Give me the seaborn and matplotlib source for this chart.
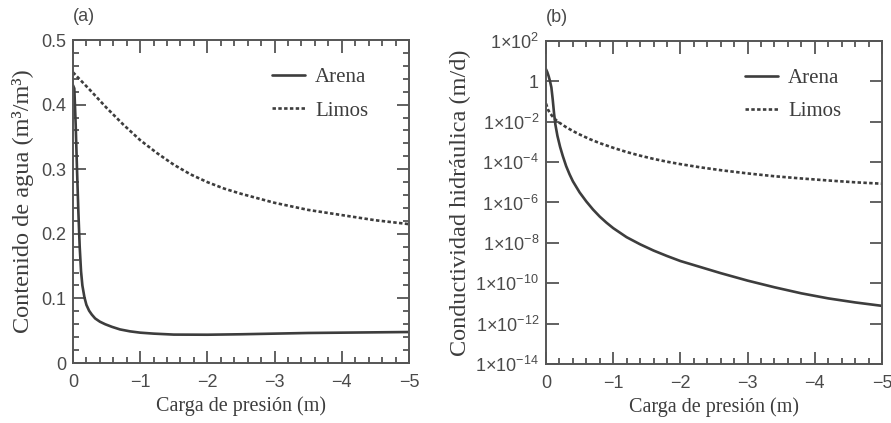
import numpy as np
import pandas as pd
import seaborn as sns
import matplotlib
matplotlib.use("Agg")
import matplotlib.pyplot as plt
from matplotlib.ticker import MultipleLocator, FixedLocator, FuncFormatter, NullLocator

# ---- water content (m3/m3) vs pressure head (m) ----
h_theta_arena = [0, -0.02, -0.04, -0.06, -0.08, -0.10, -0.12, -0.14, -0.17, -0.20,
                 -0.24, -0.28, -0.33, -0.40, -0.48, -0.58, -0.70, -0.85, -1.0,
                 -1.2, -1.5, -2.0, -2.5, -3.0, -3.5, -4.0, -4.5, -5.0]
theta_arena = [0.43, 0.425, 0.37, 0.30, 0.235, 0.18, 0.142, 0.12, 0.102, 0.09,
               0.081, 0.075, 0.069, 0.064, 0.06, 0.056, 0.052, 0.049, 0.047,
               0.0455, 0.044, 0.0438, 0.0445, 0.0455, 0.0465, 0.047, 0.0475, 0.048]

h_theta_limos = [0, -0.25, -0.5, -0.75, -1.0, -1.25, -1.5, -1.75, -2.0, -2.25,
                 -2.5, -3.0, -3.5, -4.0, -4.5, -5.0]
theta_limos = [0.45, 0.423, 0.395, 0.369, 0.345, 0.325, 0.307, 0.292, 0.28, 0.27,
               0.262, 0.248, 0.237, 0.229, 0.221, 0.215]

# ---- hydraulic conductivity (m/d), stored as log10 values ----
h_k_arena = [0, -0.02, -0.04, -0.06, -0.08, -0.10, -0.12, -0.14, -0.17, -0.21,
             -0.25, -0.30, -0.35, -0.40, -0.50, -0.60, -0.70, -0.80, -0.90, -1.0,
             -1.2, -1.4, -1.6, -1.8, -2.0, -2.3, -2.6, -3.0, -3.4, -3.8, -4.2,
             -4.6, -5.0]
log10_k_arena = [0.6, 0.45, 0.25, 0.0, -0.3, -0.9, -1.6, -2.15, -2.7, -3.25,
                 -3.7, -4.2, -4.6, -4.95, -5.5, -5.95, -6.35, -6.7, -7.0, -7.27,
                 -7.72, -8.07, -8.38, -8.65, -8.9, -9.2, -9.5, -9.87, -10.2, -10.5,
                 -10.75, -10.95, -11.12]

h_k_limos = [0, -0.03, -0.06, -0.1, -0.15, -0.2, -0.3, -0.4, -0.5, -0.65, -0.8,
             -1.0, -1.2, -1.4, -1.6, -1.8, -2.0, -2.3, -2.6, -3.0, -3.4, -3.8,
             -4.2, -4.6, -5.0]
log10_k_limos = [-1.1, -1.4, -1.58, -1.75, -1.92, -2.05, -2.27, -2.46, -2.63,
                 -2.86, -3.06, -3.29, -3.5, -3.68, -3.84, -3.98, -4.1, -4.26,
                 -4.4, -4.56, -4.7, -4.81, -4.91, -5.0, -5.07]

soils = ["Arena", "Limos"]
x_ticks = [0, -1, -2, -3, -4, -5]
theta_ticks = [0, 0.1, 0.2, 0.3, 0.4, 0.5]
k_tick_exps = [2, 0, -2, -4, -6, -8, -10, -12, -14]

theta_df = pd.concat([
    pd.DataFrame({"h": h_theta_arena, "v": theta_arena, "suelo": "Arena"}),
    pd.DataFrame({"h": h_theta_limos, "v": theta_limos, "suelo": "Limos"}),
])
k_df = pd.concat([
    pd.DataFrame({"h": h_k_arena, "v": 10.0 ** np.array(log10_k_arena), "suelo": "Arena"}),
    pd.DataFrame({"h": h_k_limos, "v": 10.0 ** np.array(log10_k_limos), "suelo": "Limos"}),
])

sns.set_theme(style="ticks")
plt.rcParams["font.family"] = ["Liberation Sans", "DejaVu Sans"]
plt.rcParams["mathtext.fontset"] = "custom"
plt.rcParams["mathtext.rm"] = "Liberation Sans"
plt.rcParams["mathtext.it"] = "Liberation Sans:italic"

INK = "#3d3d3d"
SPINE = "#555555"
TICKC = "#4a4a4a"
SERIF = ["Liberation Serif", "DejaVu Serif"]

fig = plt.figure(figsize=(8.91, 4.23), dpi=100)
ax1 = fig.add_axes([0.0819, 0.1418, 0.3771, 0.7636])
ax2 = fig.add_axes([0.6128, 0.1395, 0.3771, 0.7636])

palette = {s: INK for s in soils}
dashes = {"Arena": "", "Limos": (1.3, 0.9)}

sns.lineplot(data=theta_df, x="h", y="v", hue="suelo", style="suelo",
             palette=palette, dashes=dashes, linewidth=1.9, ax=ax1,
             estimator=None, sort=False)
ax2.set_yscale("log")
sns.lineplot(data=k_df, x="h", y="v", hue="suelo", style="suelo",
             palette=palette, dashes=dashes, linewidth=1.9, ax=ax2,
             estimator=None, sort=False)


def fmt_x(v, pos):
    return "0" if abs(v) < 1e-9 else f"\u2212{abs(v):.0f}"


def fmt_k(v, pos):
    e = int(round(np.log10(v)))
    if e == 0:
        return "1"
    if e > 0:
        return r"$1\mathregular{\times}10^{%d}$" % e
    return r"$1\mathregular{\times}10^{\mathregular{-}%d}$" % (-e)


for ax in (ax1, ax2):
    ax.set_xlim(0, -5)
    ax.xaxis.set_major_locator(FixedLocator(x_ticks))
    ax.xaxis.set_major_formatter(FuncFormatter(fmt_x))
    ax.xaxis.set_minor_locator(MultipleLocator(0.2))
    ax.tick_params(which="both", direction="in", top=True, right=True,
                   color=SPINE, width=1.3)
    ax.tick_params(which="major", length=9, labelsize=13, labelcolor=TICKC)
    ax.tick_params(which="minor", length=4.5)
    ax.tick_params(axis="x", which="major", pad=8)
    ax.tick_params(axis="y", which="major", pad=5)
    for sp in ax.spines.values():
        sp.set_color(SPINE)
        sp.set_linewidth(1.4)
    ax.set_xlabel("Carga de presión (m)", family=SERIF, fontsize=14.5,
                  color=INK, labelpad=4)
    handles, labels = ax.get_legend_handles_labels()
    ax.legend(handles, labels, frameon=False, loc="upper right",
              bbox_to_anchor=(0.935, 0.972), handlelength=1.6,
              handletextpad=0.5, labelspacing=0.65,
              prop={"family": SERIF, "size": 15}, labelcolor=INK)

ax1.set_ylim(0, 0.5)
ax1.yaxis.set_major_locator(FixedLocator(theta_ticks))
ax1.yaxis.set_major_formatter(FuncFormatter(lambda v, p: "0" if v == 0 else f"{v:.1f}"))
ax1.yaxis.set_minor_locator(MultipleLocator(0.02))
ax1.set_ylabel("Contenido de agua (m\u00b3/m\u00b3)", family=SERIF, fontsize=17.5,
               color=INK, labelpad=5)

ax2.set_ylim(1e-14, 1e2)
ax2.yaxis.set_major_locator(FixedLocator([10.0 ** e for e in k_tick_exps]))
ax2.yaxis.set_major_formatter(FuncFormatter(fmt_k))
ax2.yaxis.set_minor_locator(NullLocator())
ax2.set_ylabel("Conductividad hidráulica (m/d)", family=SERIF, fontsize=17.5,
               color=INK, labelpad=3)

ax1.text(0.0, 1.045, "(a)", transform=ax1.transAxes, fontsize=13, color=TICKC,
         ha="left", va="bottom")
ax2.text(0.0, 1.045, "(b)", transform=ax2.transAxes, fontsize=13, color=TICKC,
         ha="left", va="bottom")

fig.savefig("out.png", dpi=100)
